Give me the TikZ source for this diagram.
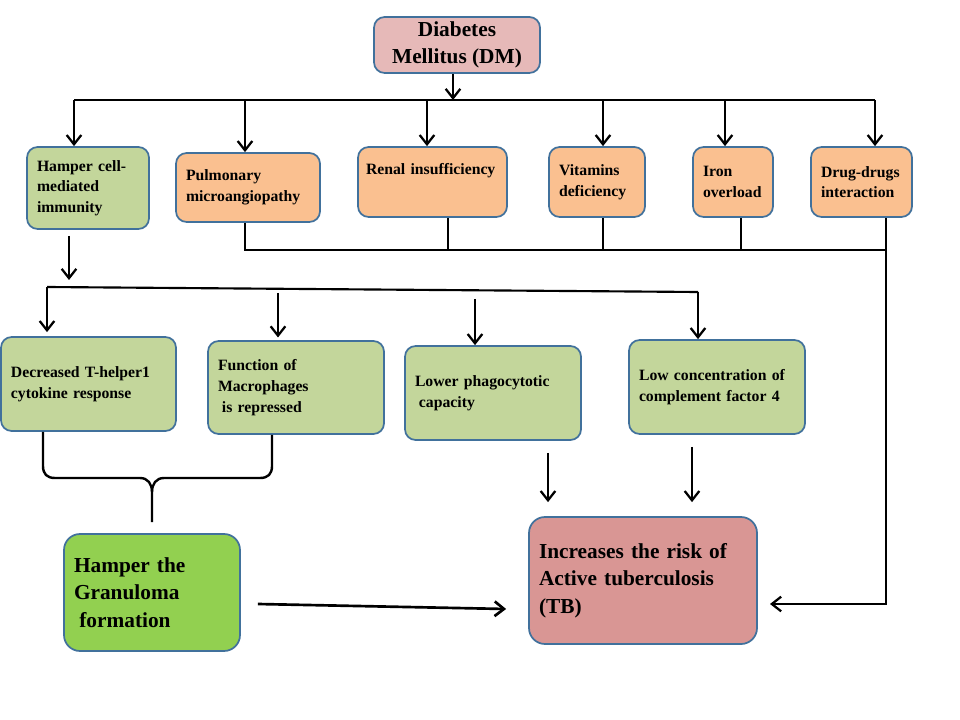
\documentclass[tikz,border=0pt]{standalone}
\usepackage{fontspec}
\setmainfont{Liberation Serif}
\usetikzlibrary{arrows.meta,calc}
\definecolor{bord}{HTML}{41719C}
\definecolor{lgreen}{HTML}{C3D69B}
\definecolor{orng}{HTML}{FAC090}
\definecolor{dmc}{HTML}{E6B9B8}
\definecolor{tbc}{HTML}{D99694}
\definecolor{grc}{HTML}{92D050}
\begin{document}
\begin{tikzpicture}[x=0.75pt,y=-0.75pt,
  bx/.style n args={3}{draw=bord, line width=1.3pt, rounded corners=8pt, fill=#1,
    minimum width=#2*0.75pt, minimum height=#3*0.75pt, text width=#2*0.75pt-15pt,
    inner xsep=7.5pt, inner ysep=2pt, align=left, text=black,
    font=\fontsize{11.8}{15.5}\selectfont\bfseries},
  big/.style={rounded corners=12pt, font=\fontsize{16}{20.6}\selectfont\bfseries},
  dmbox/.style={draw=bord, line width=1.3pt, rounded corners=8pt, fill=dmc,
    minimum width=124.5pt, minimum height=42pt, inner ysep=1pt, align=center,
    font=\fontsize{16}{20}\selectfont\bfseries},
  arr/.style={line width=1.7pt, -{Straight Barb[length=7pt,width=11pt]}},
  ln/.style={line width=1.6pt},
  thin/.style={line width=1.3pt},
  brace/.style={line width=1.8pt}]
\useasboundingbox (0,0) rectangle (960,720);

% nodes
\node[dmbox] (dm) at (457,45) {Diabetes\\Mellitus (DM)};
\node[bx={lgreen}{122}{82}] (hc) at (88,188) {Hamper cell-\\mediated\\immunity};
\node[bx={orng}{144}{69}] (pm) at (248,187.5) {Pulmonary\\microangiopathy};
\node[bx={orng}{149}{70}, inner xsep=6pt, text width=99.75pt] (ri) at (432.5,182) {Renal insufficiency\\\strut};
\node[bx={orng}{96}{70}] (vd) at (597,182) {Vitamins\\deficiency};
\node[bx={orng}{80}{70}] (io) at (733,182) {Iron\\overload};
\node[bx={orng}{101}{70}] (dd) at (861.5,182) {Drug-drugs\\interaction};

\node[bx={lgreen}{175}{94}] (dt) at (88.5,384) {Decreased T-helper1\\cytokine response};
\node[bx={lgreen}{176}{93}] (fm) at (296,387.5) {Function of\\Macrophages\\\hspace*{0.25em}is repressed};
\node[bx={lgreen}{176}{94}] (lp) at (493,393) {Lower phagocytotic\\\hspace*{0.25em}capacity};
\node[bx={lgreen}{176}{94}] (lc) at (717,387) {Low concentration of\\complement factor 4};

\node[bx={grc}{176}{117}, big] (gr) at (152,592.5) {Hamper the\\Granuloma\\\hspace*{0.25em}formation};
\node[bx={tbc}{228}{127}, big] (tb) at (643,580.5) {Increases the risk of\\Active tuberculosis\\(TB)};

% top bus
\coordinate (t0) at (453,100);
\coordinate (t1) at (74,100);
\coordinate (t2) at (245,100);
\coordinate (t3) at (427,100);
\coordinate (t4) at (603,100);
\coordinate (t5) at (725,100);
\coordinate (t6) at (875,100);
\draw[arr] (dm.south -| t0) -- (t0);
\draw[ln] (t1) -- (t6);
\draw[arr] (t1) -- (t1 |- hc.north);
\draw[arr] (t2) -- (t2 |- pm.north);
\draw[arr] (t3) -- (t3 |- ri.north);
\draw[arr] (t4) -- (t4 |- vd.north);
\draw[arr] (t5) -- (t5 |- io.north);
\draw[arr] (t6) -- (t6 |- dd.north);

% lower collecting line
\coordinate (u2) at (245,250);
\coordinate (u3) at (448,250);
\coordinate (u4) at (603,250);
\coordinate (u5) at (741,250);
\coordinate (u6) at (886,250);
\coordinate (u7) at (886,604);
\coordinate (u8) at (770,604);
\draw[thin] (u2 |- pm.south) -- (u2) -- (u6);
\draw[thin] (u3 |- ri.south) -- (u3);
\draw[thin] (u4 |- vd.south) -- (u4);
\draw[thin] (u5 |- io.south) -- (u5);
\draw[arr] (u6 |- dd.south) -- (u7) -- (u8);

% second tier
\coordinate (v0) at (69,280);
\draw[arr, shorten <=4.5pt] (hc.south -| v0) -- (v0);
\coordinate (v1) at (47,287);
\coordinate (v4) at (698,292);
\coordinate (v2) at (278,293);
\coordinate (v3) at (475,299);
\draw[ln] (v1) -- (v4);
\draw[arr, shorten >=3pt] (v1) -- (v1 |- dt.north);
\draw[arr] (v4) -- (v4 |- lc.north);
\draw[arr, shorten >=2pt] (v2) -- (v2 |- fm.north);
\draw[arr] (v3) -- (v3 |- lp.north);

% arrows into TB
\coordinate (w1) at (548,0);
\coordinate (w2) at (692,0);
\draw[arr, shorten <=9pt, shorten >=10.5pt] (lp.south -| w1) -- (tb.north -| w1);
\draw[arr, shorten <=9pt, shorten >=10.5pt] (lc.south -| w2) -- (tb.north -| w2);
\draw[arr, line width=2pt] ($(gr.east)+(17,11.5)$) -- ($(tb.west)+(-22,28.5)$);

% brace
\coordinate (y1) at (43,0);
\coordinate (y2) at (272,0);
\coordinate (y0) at (152,522);
\draw[brace] (dt.south -| y1) -- (43,466) .. controls (43,474) and (47,478) .. (55,478)
  -- (140,478) .. controls (148,478) and (152,484) .. (152,492) -- (y0);
\draw[brace] (fm.south -| y2) -- (272,466) .. controls (272,474) and (268,478) .. (260,478)
  -- (164,478) .. controls (156,478) and (152,484) .. (152,492);
\end{tikzpicture}
\end{document}
